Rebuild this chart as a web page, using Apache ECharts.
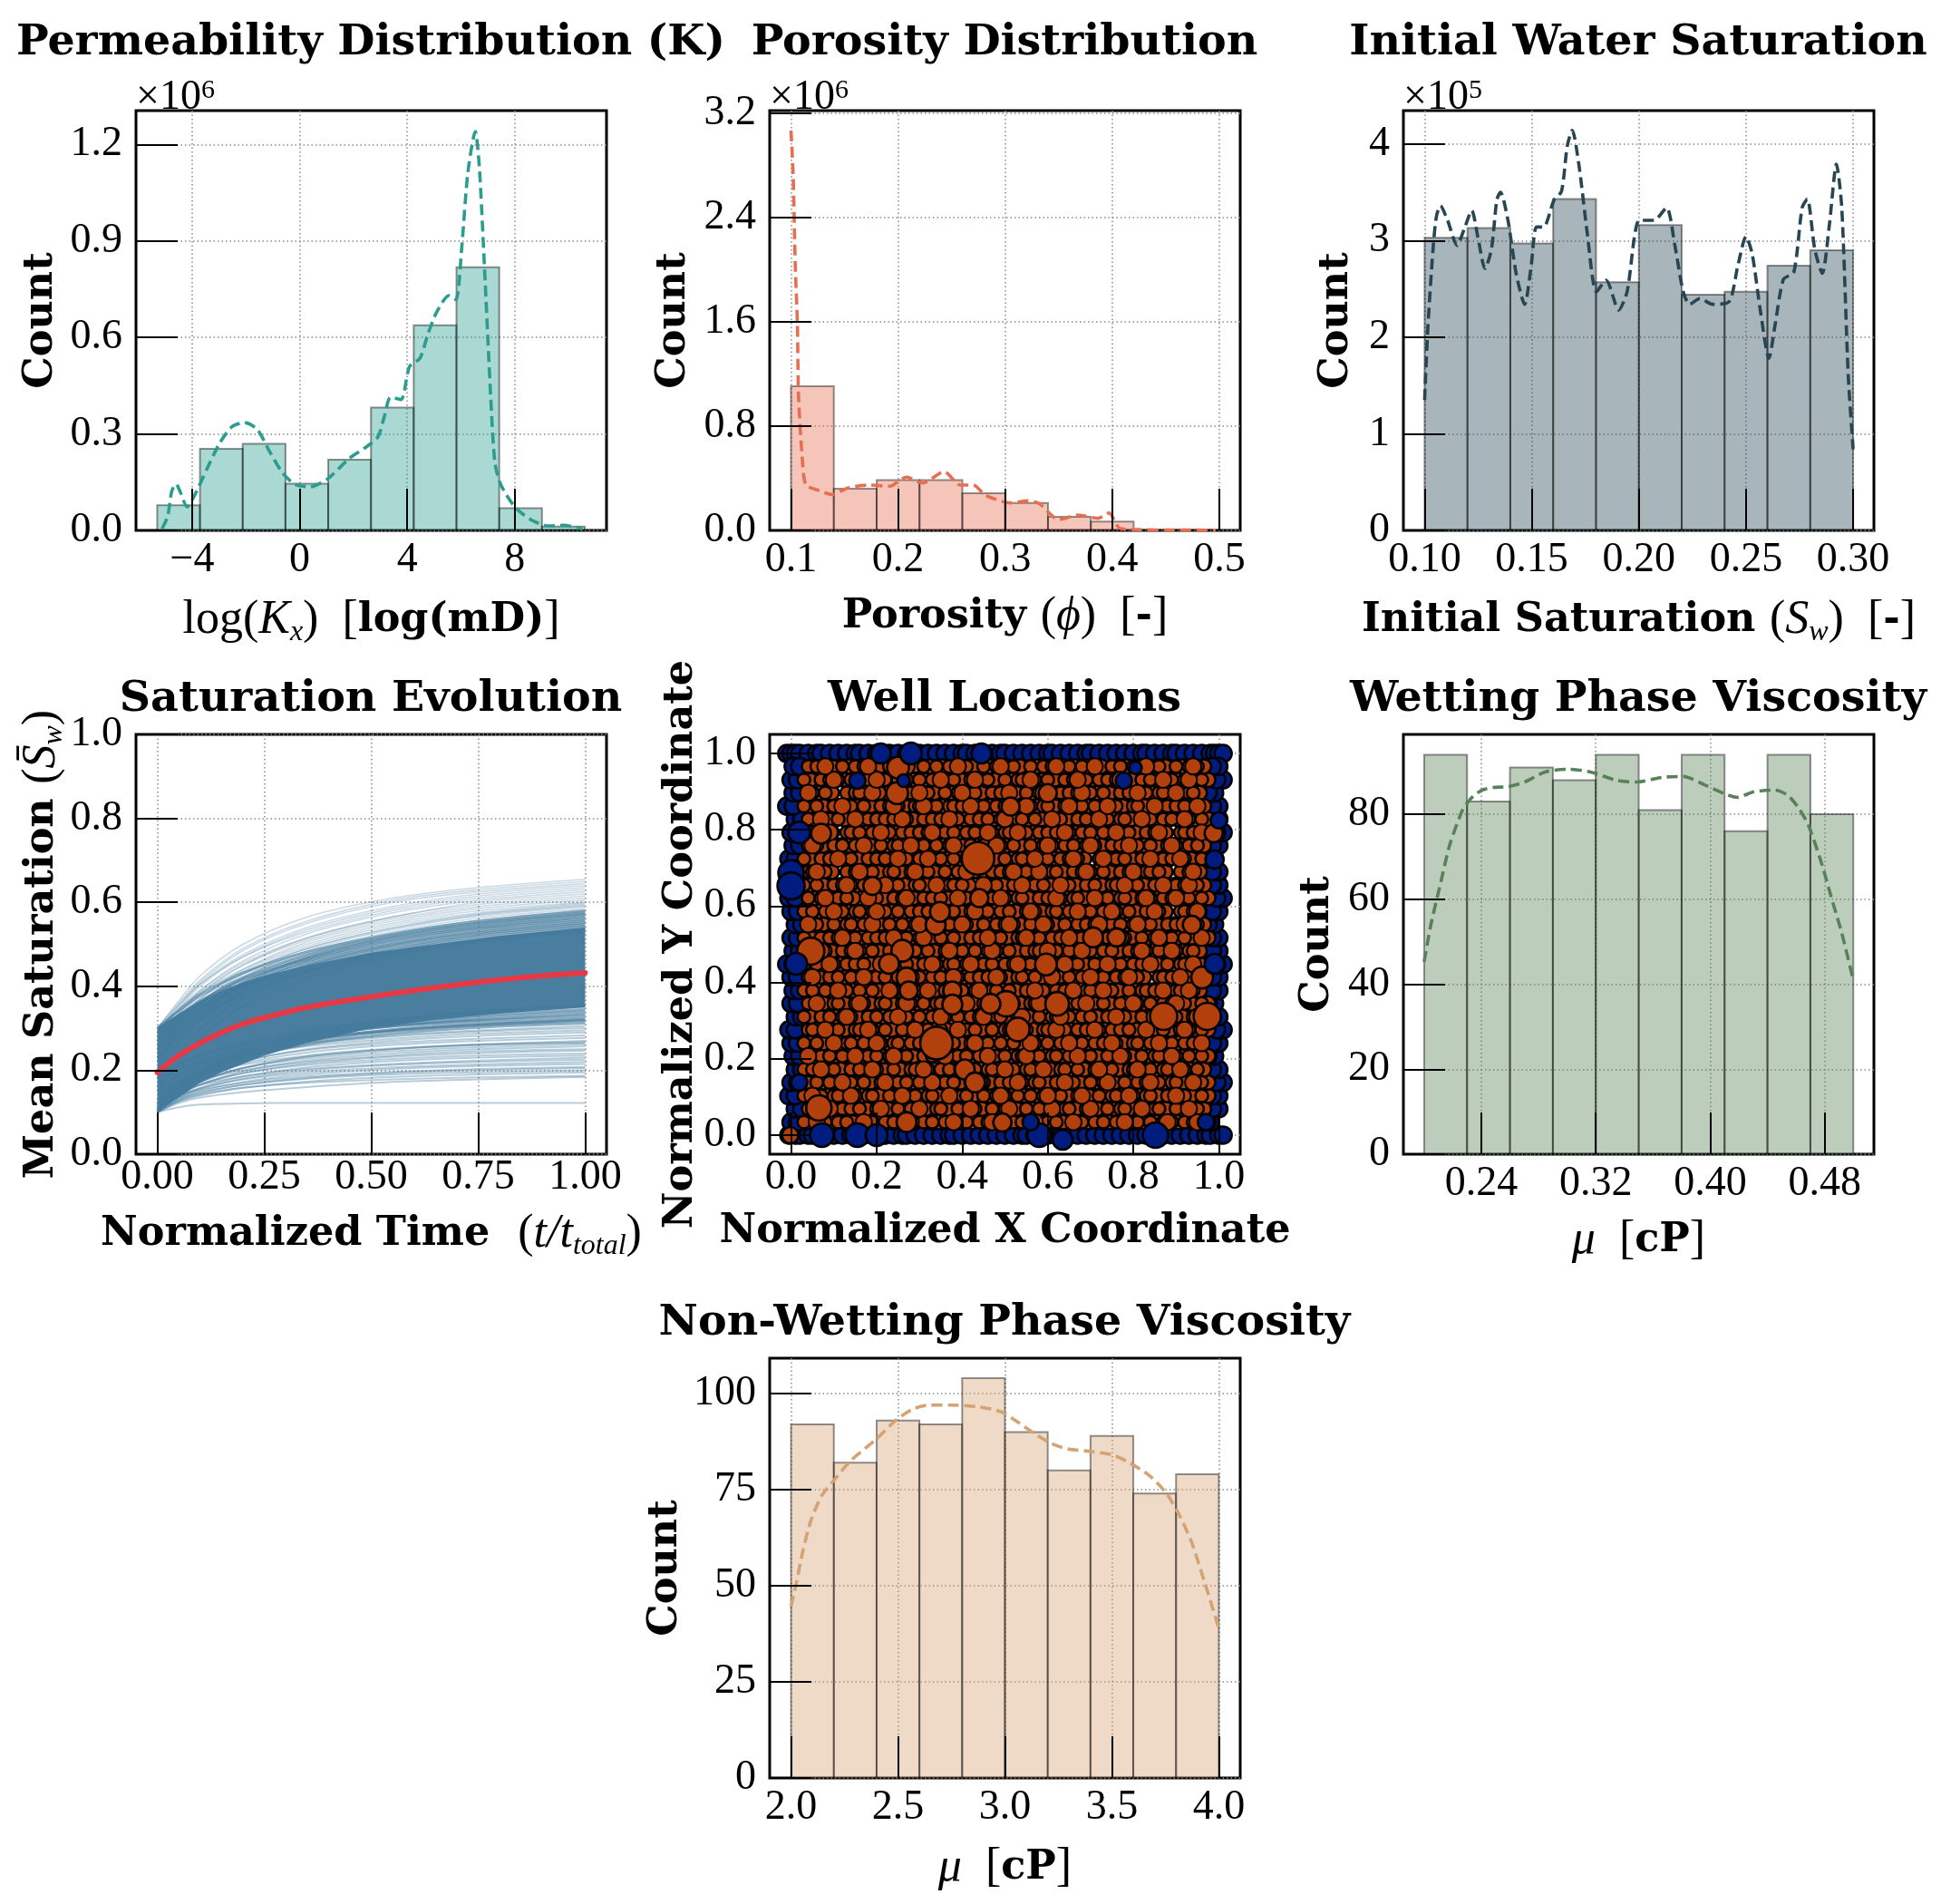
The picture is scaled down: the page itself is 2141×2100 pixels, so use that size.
<!DOCTYPE html>
<html><head><meta charset="utf-8">
<style>html,body{margin:0;padding:0;background:#fff}#c{width:2141px;height:2100px}</style>
<script src="https://cdn.jsdelivr.net/npm/echarts@6/dist/echarts.min.js"></script>
</head><body><div id="c"></div>
<script>
// ---------- Panel 1: permeability
const permEdges=[-5.30,-3.71,-2.12,-0.53,1.06,2.65,4.24,5.83,7.42,9.01,10.60];
const permCounts=[0.078,0.254,0.269,0.145,0.220,0.382,0.638,0.818,0.069,0.012];
const permKde=[[-5.12,.005],[-4.91,.044],[-4.76,.122],[-4.60,.144],[-4.42,.115],[-4.19,.073],[-3.91,.109],[-3.44,.193],[-2.98,.271],[-2.51,.323],[-2.05,.335],[-1.58,.314],[-1.12,.245],[-.65,.180],[-.19,.144],[.36,.135],[1.05,.161],[1.83,.223],[2.45,.258],[2.91,.291],[3.15,.355],[3.38,.414],[3.77,.407],[4.08,.509],[4.47,.535],[4.78,.613],[5.09,.678],[5.55,.730],[5.81,.717],[6.02,.873],[6.25,1.11],[6.53,1.24],[6.68,1.13],[6.87,.82],[7.10,.42],[7.26,.21],[7.49,.14],[8.03,.07],[8.65,.031],[9.27,.014],[9.81,.016],[10.51,.005]];
const permXTicks=[-4,0,4,8], permYTicks=[0,0.3,0.6,0.9,1.2];
// ---------- Panel 2: porosity
const poroEdges=[.10,.14,.18,.22,.26,.30,.34,.38,.42,.46,.50];
const poroCounts=[1.106,.32,.387,.387,.285,.211,.105,.067,.002,.001];
const poroKde=[[.1,3.07],[.102,2.73],[.104,2.03],[.106,1.58],[.107,1.04],[.1105,.556],[.114,.348],[.126,.307],[.1385,.275],[.153,.326],[.173,.348],[.192,.339],[.208,.409],[.223,.364],[.243,.451],[.258,.348],[.27,.348],[.282,.269],[.305,.211],[.321,.227],[.332,.205],[.35,.083],[.3675,.118],[.387,.093],[.397,.134],[.4065,.019],[.422,.006],[.457,.003],[.4966,.002]];
const poroXTicks=[.1,.2,.3,.4,.5], poroYTicks=[0,.8,1.6,2.4,3.2];
// ---------- Panel 3: initial saturation
const swEdges=[.10,.12,.14,.16,.18,.20,.22,.24,.26,.28,.30];
const swCounts=[3.03,3.13,2.97,3.43,2.57,3.16,2.44,2.47,2.74,2.90];
const swKde=[[.1,1.35],[.1016,2.13],[.1039,2.9],[.1055,3.25],[.1074,3.36],[.1107,3.21],[.1152,2.95],[.1185,3.12],[.122,3.31],[.1249,3.03],[.1282,2.71],[.1312,2.91],[.1337,3.42],[.1354,3.5],[.1389,3.21],[.1428,2.65],[.1467,2.34],[.1497,2.73],[.1522,3.14],[.1555,3.14],[.1604,3.42],[.1639,3.51],[.1666,3.98],[.1689,4.14],[.1721,3.77],[.1759,3.08],[.1802,2.47],[.1847,2.59],[.1906,2.28],[.1945,2.47],[.2003,3.21],[.2071,3.21],[.2129,3.34],[.2168,2.95],[.2207,2.47],[.2237,2.34],[.2285,2.40],[.2344,2.34],[.2422,2.37],[.2461,2.73],[.25,3.04],[.2529,2.86],[.2568,2.26],[.2607,1.78],[.2636,2.13],[.2675,2.60],[.2723,2.67],[.2762,3.34],[.2786,3.43],[.2821,2.91],[.2856,2.66],[.2889,3.16],[.2922,3.79],[.2947,3.34],[.2977,1.61],[.3,.84]];
const swXTicks=[.10,.15,.20,.25,.30], swYTicks=[0,1,2,3,4];
// ---------- Panel 4: saturation evolution
const evoTime=[0,.05,.1,.2,.35,.55,.75,1];
const evoUpper=[
[.30,.365,.425,.50,.565,.61,.635,.655],[.30,.36,.415,.49,.555,.605,.63,.65],[.29,.355,.41,.485,.55,.60,.625,.645],
[.29,.35,.405,.475,.54,.59,.62,.64],[.28,.345,.40,.47,.535,.585,.615,.635],[.30,.355,.405,.47,.53,.58,.61,.63],
[.27,.335,.39,.46,.525,.575,.605,.625],[.29,.345,.39,.455,.515,.565,.60,.62],[.26,.325,.38,.45,.515,.565,.595,.615],
[.28,.335,.385,.45,.51,.56,.59,.61],[.25,.315,.37,.44,.505,.555,.585,.605],[.30,.345,.385,.44,.50,.55,.58,.60],
[.27,.325,.37,.435,.495,.545,.575,.598],[.24,.305,.36,.43,.49,.54,.572,.595],[.29,.335,.375,.43,.49,.538,.57,.592],
[.22,.29,.345,.42,.485,.535,.567,.59],[.28,.325,.365,.425,.48,.53,.562,.585],[.26,.31,.355,.415,.475,.525,.557,.58],
[.23,.29,.34,.41,.47,.52,.552,.575],[.30,.34,.375,.42,.47,.518,.55,.572],[.25,.30,.345,.405,.465,.515,.547,.57],
[.21,.27,.325,.395,.46,.51,.543,.565]];
const evoLower=[
[.10,.112,.118,.121,.122,.122,.122,.122],[.10,.122,.135,.148,.16,.172,.178,.184],[.105,.128,.142,.158,.17,.178,.183,.187],
[.10,.125,.14,.158,.173,.184,.19,.195],[.11,.133,.147,.165,.18,.19,.195,.2],[.10,.128,.145,.165,.182,.194,.2,.205],
[.12,.14,.153,.17,.185,.196,.203,.208],[.10,.13,.15,.172,.19,.203,.21,.215],[.115,.14,.157,.178,.195,.207,.214,.22],
[.105,.135,.155,.18,.2,.213,.22,.225],[.13,.15,.165,.185,.203,.215,.223,.23],[.10,.135,.158,.185,.207,.222,.23,.235],
[.12,.148,.168,.193,.213,.227,.235,.24],[.11,.143,.165,.193,.216,.232,.241,.247],[.14,.16,.177,.2,.22,.235,.245,.25],
[.10,.14,.165,.197,.223,.24,.25,.257],[.125,.155,.177,.205,.228,.245,.255,.262],[.105,.145,.172,.205,.232,.25,.26,.267],
[.105,.145,.172,.205,.232,.25,.26,.265],[.15,.172,.19,.213,.235,.252,.262,.27],[.115,.155,.183,.216,.242,.26,.27,.277],
[.13,.165,.19,.222,.248,.265,.275,.283],[.10,.148,.18,.22,.25,.27,.282,.29],[.14,.175,.2,.232,.257,.275,.287,.295],
[.12,.163,.193,.23,.26,.28,.292,.3],[.16,.19,.21,.24,.265,.283,.295,.305]];
const evoEdge=[
[.30,.342,.38,.432,.482,.525,.555,.58],[.27,.32,.362,.42,.475,.52,.55,.575],[.24,.298,.345,.408,.468,.515,.545,.57],
[.29,.33,.365,.415,.465,.51,.54,.565],[.22,.282,.335,.402,.46,.505,.537,.56],[.26,.305,.345,.40,.455,.50,.532,.556],
[.20,.262,.318,.388,.45,.497,.528,.552],[.28,.318,.35,.398,.448,.492,.524,.548],[.23,.28,.322,.382,.44,.487,.52,.544],
[.18,.24,.298,.37,.433,.482,.515,.54],[.25,.295,.332,.385,.435,.48,.51,.535],[.16,.22,.278,.352,.42,.472,.506,.53],
[.10,.15,.185,.228,.262,.287,.302,.312],[.17,.2,.222,.25,.275,.295,.307,.318],[.11,.157,.19,.233,.268,.293,.308,.32],
[.13,.17,.2,.24,.272,.297,.312,.324],[.19,.215,.235,.26,.285,.305,.318,.33],[.105,.155,.192,.24,.278,.305,.32,.335],
[.15,.188,.215,.25,.283,.308,.325,.34],[.12,.165,.2,.245,.285,.313,.33,.345],[.10,.155,.195,.247,.29,.32,.337,.352],
[.18,.21,.235,.265,.295,.32,.34,.355]];
const coreTime=[0,.02,.05,.1,.15,.2,.25,.35,.5,.65,.8,1];
const coreHigh=[.30,.315,.335,.365,.39,.41,.425,.45,.48,.50,.52,.54];
const coreLow=[.10,.115,.135,.17,.195,.215,.235,.265,.30,.32,.335,.35];
const meanTime=[0,.05,.1,.15,.2,.25,.35,.5,.6,.75,.9,1];
const meanSat=[.195,.235,.265,.29,.31,.325,.35,.375,.39,.41,.425,.432];
const evoXTicks=[0,.25,.5,.75,1], evoYTicks=[0,.2,.4,.6,.8,1];
// ---------- Panel 5: wells
const wellRowY=[0,.034,.069,.103,.138,.172,.207,.241,.276,.31,.345,.379,.414,.448,.483,.517,.552,.586,.621,.655,.69,.724,.759,.793,.828,.862,.897,.931,.966,1];
const blueBottomX=[-.5,1,2,4,5,7,8,10,12,14,15,17,19,20,22,24,26,27,29,31,33,35,37,38,40,42,44,46,48,50,52,54,55,57,58,60,62,63,65,67,69,71,73,75,77,79,81,83,85,87,89,91,93,95,97,98,100,101];
const blueTopX=[-1,0,1,2,4,6,7,9,11,13,15,16,18,20,21,23,25,27,28,30,32,34,36,38,40,41,43,45,47,49,50,52,54,56,58,60,61,63,65,67,69,70,72,74,76,78,80,82,83,85,87,89,90,92,94,96,98,99,100,101];
const blueLeftX=[0,1,-.5,0,1,.5,0,-.5,1,0,.5,0,-1,.5,0,1,0,-.5,.5,0,-.5,.5,0,1,-1,.5,0,.5];
const blueRightX=[98,100,100,101,100,99,100,101,100,99,100,100,101,100,100,99,100,101,100,100,99,100,101,100,100,99,101,100];
const orangeRows=[
[3,6,8,11,13,17,19,22,24,27,31,33,36,38,41,44,46,49,52,54,57,60,62,66,68,71,73,76,79,81,84,87,89,92,94,96],
[4,5,9,12,14,16,20,21,25,28,30,34,35,39,42,43,47,50,51,55,58,61,64,65,69,70,74,77,78,82,85,86,90,93,95],
[3,7,10,11,15,18,19,23,26,29,32,33,37,40,41,45,48,50,53,56,59,60,63,67,68,72,75,76,80,83,84,88,91,92,96],
[4,6,9,13,14,17,21,22,25,27,30,34,36,38,42,44,45,49,51,54,57,58,62,65,66,70,73,74,78,81,83,86,89,90,94,96],
[3,5,8,10,14,16,19,20,24,28,29,32,35,37,40,43,46,47,52,55,56,59,63,64,67,71,72,75,79,80,84,87,88,92,95],
[4,7,9,12,15,18,20,23,26,27,31,33,36,39,41,44,48,50,53,54,58,61,62,65,69,70,74,77,78,82,85,86,90,93,96],
[3,6,10,13,14,17,21,24,25,28,30,34,37,38,42,45,46,49,52,56,57,60,63,66,68,71,73,76,80,81,84,88,89,92,94],
[4,5,8,11,15,16,19,22,26,29,31,32,35,40,41,43,47,50,51,55,59,60,64,67,69,72,75,77,79,83,85,87,91,93,96],
[3,7,9,12,14,18,20,23,25,27,30,33,36,39,42,44,48,49,53,54,58,61,62,65,68,70,74,76,78,82,86,88,90,94,95],
[4,6,10,11,15,17,21,22,26,28,31,34,35,38,41,45,46,50,52,56,57,60,63,66,67,71,73,77,80,81,84,87,89,92,96],
[3,5,8,12,13,16,19,23,24,27,29,32,36,37,40,43,47,48,51,55,58,59,62,64,69,70,74,75,79,82,83,85,90,91,94],
[4,7,9,11,14,18,20,22,25,28,30,33,35,39,42,44,46,49,53,54,57,61,63,65,68,72,73,76,78,81,86,87,89,93,95],
[3,6,10,13,15,17,21,24,26,27,31,34,37,38,41,45,47,50,52,56,59,60,64,66,67,71,74,77,80,82,84,88,91,92,96],
[4,5,8,12,14,16,19,23,25,28,29,32,36,39,40,43,46,48,51,55,57,58,62,65,69,70,73,75,79,81,83,86,90,93,94],
[3,7,9,11,15,18,20,22,24,27,30,33,35,38,42,44,47,49,53,54,58,61,63,66,68,72,74,76,78,82,85,87,89,92,96],
[4,6,10,13,14,17,21,23,26,29,31,34,37,40,41,45,48,50,52,56,59,60,64,67,69,71,75,77,80,81,84,88,90,93,95],
[3,5,8,12,15,16,19,22,25,28,30,32,36,38,42,43,46,49,51,55,57,61,62,65,68,70,73,76,79,83,85,86,91,92,94],
[4,7,9,11,13,18,20,24,26,27,31,33,35,39,41,44,47,50,53,54,58,60,63,66,67,72,74,77,78,82,84,87,89,93,96],
[3,6,10,12,14,17,21,22,25,29,30,34,37,38,40,45,46,48,52,56,57,59,64,65,69,71,75,76,80,81,85,88,90,92,95],
[4,5,8,13,15,16,19,23,24,28,31,32,36,39,42,43,47,49,51,55,58,61,62,66,68,70,73,77,79,83,84,86,91,93,94],
[3,7,9,11,14,18,20,22,26,27,30,33,35,38,41,44,46,50,53,54,57,60,63,65,67,72,74,76,78,82,85,87,89,92,96],
[4,6,10,12,15,17,21,24,25,29,31,34,37,40,42,45,48,49,52,56,59,61,64,66,69,71,75,77,80,81,84,88,90,93,95],
[3,5,8,13,14,16,19,23,26,28,30,32,36,38,41,43,47,50,51,55,58,60,62,65,68,70,73,76,79,83,85,86,91,92,94],
[4,7,9,11,15,18,20,22,24,27,31,33,35,39,42,44,46,49,53,54,57,61,63,67,69,72,74,77,78,82,84,87,89,93,96],
[3,6,10,12,14,17,21,23,25,29,30,34,37,38,40,45,48,50,52,56,59,60,64,66,68,71,75,76,80,81,85,88,90,92,95],
[4,5,8,13,15,16,19,24,26,28,31,32,36,39,41,43,47,49,51,55,58,62,63,65,67,70,73,77,79,83,86,87,91,93,94],
[3,7,9,11,14,18,20,22,25,27,30,33,35,38,42,44,46,50,53,54,57,60,64,66,69,72,74,76,78,82,84,88,89,92,96],
[4,6,10,12,15,17,21,23,26,29,31,34,37,40,41,45,48,49,52,56,59,61,62,65,68,71,75,77,80,81,85,86,90,93,95]];
const orangeMidRows=[
[6,17,28,38,47,57,66,78,88,95],[9,21,30,42,51,61,70,82,93],[5,14,26,37,49,60,68,79,90],
[12,22,33,44,53,64,74,84,94],[7,19,31,40,50,59,72,81,91],[4,15,24,36,46,55,67,77,89],
[10,20,34,43,56,65,75,86,96],[8,18,29,39,52,62,71,83,92],[13,25,35,45,54,63,76,85,95],
[6,16,27,41,50,58,69,80,90],[11,23,32,44,57,66,73,87,93],[5,17,28,38,48,61,70,79,91],
[9,21,33,42,53,64,74,84,94],[7,15,26,37,47,60,68,82,89],[12,24,31,46,55,65,77,86,96],
[4,19,30,40,51,59,72,81,92],[10,20,35,43,56,67,75,85,95],[8,18,27,39,49,62,71,83,90],
[13,22,34,45,54,63,78,87,93],[6,16,29,41,52,58,69,80,94],[11,25,32,44,57,66,73,84,91],
[5,17,28,38,48,60,70,79,89],[9,21,33,46,53,64,76,86,96],[7,15,26,37,50,61,72,82,92],
[12,24,31,42,55,65,74,85,95],[4,19,30,40,51,59,68,81,90],[10,20,35,43,56,67,77,87,93],
[8,18,27,39,49,62,71,83,94]];
const bigOrange=[[.34,.241,36],[.437,.725,36],[.871,.311,30],[.973,.311,30],[.046,.482,30],[.065,.071,28],[.503,.344,28],[.53,.277,26],[.622,.344,26],[.25,.963,24],[.248,.896,24],[.26,.483,24],[.229,.449,22],[.19,.653,20],[.07,.79,22],[.988,.791,20],[.513,.861,20],[.60,.896,20],[.706,.518,22],[.761,.518,20],[.338,.551,22],[.348,.585,22],[.44,.621,20],[.596,.447,24],[.27,.413,22],[.275,.379,20],[.377,.379,20],[.466,.344,22],[.377,.342,22],[.961,.413,24],[.937,.551,20],[.27,.034,22],[.406,.172,22],[.43,.138,22],[.494,.033,20],[-.002,0,18]];
const bigBlue=[[.019,.793,24],[0,.687,28],[0,.653,30],[.012,.449,24],[.99,.449,22],[.99,.722,20],[1,.825,18],[.072,0,26],[.155,0,26],[.852,0,28],[.58,0,26],[.635,-.012,22],[.28,1,24],[.445,1,22],[.21,1,22],[.155,.929,18],[.778,.929,18],[.263,.929,14],[.805,.963,14],[.56,.034,18],[.97,.034,18],[.019,.138,18],[.2,0,24]];
const wellTicks=[0,.2,.4,.6,.8,1];
// ---------- Panel 6: wetting viscosity
const wetEdges=[.20,.23,.26,.29,.32,.35,.38,.41,.44,.47,.50];
const wetCounts=[94,83,91,88,94,81,94,76,94,80];
const wetKde=[[.2,45.3],[.2047,54],[.2106,62.5],[.2179,72.8],[.2266,80.8],[.2324,83.6],[.24,85.6],[.2485,86.3],[.2587,86.5],[.2703,87.6],[.2849,90],[.3009,90.6],[.3169,89.9],[.3344,88],[.349,87.6],[.3665,88.7],[.3811,88.9],[.3956,87],[.4102,84.8],[.419,84],[.4306,85.3],[.4452,85.7],[.454,84.5],[.4613,81.7],[.4685,77.5],[.4773,69],[.4845,60.6],[.4918,52.2],[.4997,41.4]];
const wetXTicks=[.24,.32,.40,.48], wetYTicks=[0,20,40,60,80];
// ---------- Panel 7: non-wetting viscosity
const nonEdges=[2,2.2,2.4,2.6,2.8,3,3.2,3.4,3.6,3.8,4];
const nonCounts=[92,82,93,92,104,90,80,89,74,79];
const nonKde=[[2,44.6],[2.025,50.8],[2.055,59],[2.093,67],[2.142,73.3],[2.2,77.4],[2.278,82.5],[2.395,88],[2.493,93.2],[2.571,96],[2.648,97],[2.746,97],[2.882,96.5],[2.98,95.3],[3.057,92.7],[3.135,89.7],[3.213,87.1],[3.291,85.6],[3.408,84.9],[3.505,84],[3.583,82],[3.681,78.4],[3.758,73.8],[3.817,68.2],[3.875,61],[3.934,50.8],[4,39]];
const nonXTicks=[2,2.5,3,3.5,4], nonYTicks=[0,25,50,75,100];

const SERIF='"Liberation Serif"', BOLD='"DejaVu Serif"';
const TICK=46, LAB=52, BLD=44.5, TTL=47.5;
const rich={
  r:{fontFamily:SERIF,fontSize:LAB,fontWeight:'normal',color:'#000'},
  b:{fontFamily:BOLD,fontSize:BLD,fontWeight:'bold',color:'#000'},
  i:{fontFamily:SERIF,fontSize:LAB,fontWeight:'normal',fontStyle:'italic',color:'#000'},
  s:{fontFamily:SERIF,fontSize:32,fontWeight:'normal',fontStyle:'italic',color:'#000',verticalAlign:'bottom',lineHeight:60},
};
const grids=[],xAxes=[],yAxes=[],series=[],titles=[];
function addPanel(p){
  const g=grids.length;
  grids.push({left:p.l,top:p.t,width:519,height:463,show:true,borderColor:'#000',borderWidth:3,backgroundColor:'transparent',containLabel:false});
  const gridLine={show:true,lineStyle:{color:'#8a8a8a',width:1.5,type:[1.5,3]}};
  const xi=xAxes.length, yi=yAxes.length;
  xAxes.push({type:'value',gridIndex:g,position:'bottom',min:p.x[0],max:p.x[1],z:0,axisLine:{show:false,onZero:false},
    axisTick:{show:false,customValues:p.xt},axisLabel:{show:false,customValues:p.xt},splitLine:gridLine});
  xAxes.push({type:'value',gridIndex:g,position:'bottom',min:p.x[0],max:p.x[1],z:20,axisLine:{show:false,onZero:false},splitLine:{show:false},
    axisTick:{show:true,inside:true,length:46,customValues:p.xt,lineStyle:{color:'#000',width:2}},
    axisLabel:{show:true,customValues:p.xt,margin:p.xm,fontFamily:SERIF,fontSize:TICK,color:'#000',formatter:v=>fmt(v,p.xd)},
    name:p.xn,nameLocation:'middle',nameGap:p.xg,nameMoveOverlap:false,nameTextStyle:{rich,fontFamily:BOLD,fontSize:BLD,fontWeight:'bold',color:'#000'}});
  yAxes.push({type:'value',gridIndex:g,position:'left',min:p.y[0],max:p.y[1],z:0,axisLine:{show:false,onZero:false},
    axisTick:{show:false,customValues:p.yt},axisLabel:{show:false,customValues:p.yt},splitLine:gridLine});
  yAxes.push({type:'value',gridIndex:g,position:'left',min:p.y[0],max:p.y[1],z:20,axisLine:{show:false,onZero:false},splitLine:{show:false},
    axisTick:{show:true,inside:true,length:46,customValues:p.yt,lineStyle:{color:'#000',width:2}},
    axisLabel:{show:true,customValues:p.yt,margin:15,padding:[5,0,0,0],fontFamily:SERIF,fontSize:TICK,color:'#000',formatter:v=>fmt(v,p.yd)},
    name:p.yn,nameLocation:'middle',nameRotate:90,nameGap:p.yg,nameMoveOverlap:false,nameTextStyle:{rich,fontFamily:BOLD,fontSize:BLD,fontWeight:'bold',color:'#000'}});
  titles.push({text:p.title,left:p.l+254,top:p.t-(p.offset?79:43),textAlign:'center',textVerticalAlign:'middle',textStyle:{fontFamily:BOLD,fontSize:TTL,fontWeight:'bold',color:'#000'}});
  if(p.offset) titles.push({text:'{a|×10}{b|'+p.offset+'}',left:p.l-5,top:p.t-42,textStyle:{rich:{a:{fontFamily:SERIF,fontSize:TICK,fontWeight:'normal',color:'#000'},b:{fontFamily:SERIF,fontSize:30,fontWeight:'normal',color:'#000',verticalAlign:'top',lineHeight:46}}}});
  return {xi,yi};
}
function fmt(v,d){const s=Math.abs(v).toFixed(d);return (v<0?'\u2212':'')+s;}
function histogram(ax,edges,counts,col){
  series.push({type:'custom',xAxisIndex:ax.xi,yAxisIndex:ax.yi,silent:true,z:3,clip:true,
    encode:{x:[0,1],y:2},
    data:counts.map((c,i)=>[edges[i],edges[i+1],c]),
    renderItem:(params,api)=>{
      const a=api.coord([api.value(0),0]), b=api.coord([api.value(1),api.value(2)]);
      return {type:'rect',shape:{x:a[0],y:b[1],width:b[0]-a[0],height:a[1]-b[1]},
        style:{fill:col,stroke:'rgba(0,0,0,0.42)',lineWidth:2,opacity:1}};
    }});
}
function kdeLine(ax,pts,col){
  series.push({type:'line',xAxisIndex:ax.xi,yAxisIndex:ax.yi,data:pts,symbol:'none',smooth:.25,z:5,silent:true,clip:true,
    lineStyle:{color:col,width:3.6,type:[12,6]}});
}
function rgba(h,a){const n=parseInt(h.slice(1),16);return `rgba(${n>>16},${n>>8&255},${n&255},${a})`;}

// Panels
const xp=[150,849,1548], yp=[122,810,1498];
let ax;
ax=addPanel({l:xp[0],t:yp[0],x:[-6.09,11.41],y:[0,1.305],xt:permXTicks,yt:permYTicks,xd:0,yd:1,xm:10,offset:'6',title:'Permeability Distribution (K)',
  xn:'{r|log(}{i|K}{s|x}{r|)  [}{b|log(mD)}{r|]}',xg:69,yn:'Count',yg:82});
histogram(ax,permEdges,permCounts,rgba('#2A9D8F',.4)); kdeLine(ax,permKde,'#2A9D8F');
ax=addPanel({l:xp[1],t:yp[0],x:[.0801,.5195],y:[0,3.222],xt:poroXTicks,yt:poroYTicks,xd:1,yd:1,xm:10,offset:'6',title:'Porosity Distribution',
  xn:'{b|Porosity }{r|(}{i|ϕ}{r|)  [}{b|-}{r|]}',xg:69,yn:'Count',yg:83});
histogram(ax,poroEdges,poroCounts,rgba('#E76F51',.4)); kdeLine(ax,poroKde,'#E76F51');
ax=addPanel({l:xp[2],t:yp[0],x:[.0901,.3097],y:[0,4.345],xt:swXTicks,yt:swYTicks,xd:2,yd:0,xm:10,offset:'5',title:'Initial Water Saturation',
  xn:'{b|Initial Saturation }{r|(}{i|S}{s|w}{r|)  [}{b|-}{r|]}',xg:69,yn:'Count',yg:51});
histogram(ax,swEdges,swCounts,rgba('#264653',.4)); kdeLine(ax,swKde,'#264653');

ax=addPanel({l:xp[0],t:yp[1],x:[-.05,1.05],y:[0,1],xt:evoXTicks,yt:evoYTicks,xd:2,yd:1,xm:3,title:'Saturation Evolution',
  xn:'{b|Normalized Time  }{r|(}{i|t/t}{s|total}{r|)}',xg:58,yn:'{b|Mean Saturation }{r|(}{i|S\u0304}{s|w}{r|)}',yg:74});
series.push({type:'custom',xAxisIndex:ax.xi,yAxisIndex:ax.yi,silent:true,z:3,encode:{x:0,y:1},data:[[coreTime[0],coreHigh[0]]],
  renderItem:(params,api)=>{
    const pts=[];
    coreTime.forEach((t,i)=>pts.push(api.coord([t,coreHigh[i]])));
    for(let i=coreTime.length-1;i>=0;i--)pts.push(api.coord([coreTime[i],coreLow[i]]));
    return {type:'polygon',shape:{points:pts},style:{fill:'#497e9f'}};
  }});
const evoLine=(r,w,o)=>series.push({type:'line',xAxisIndex:ax.xi,yAxisIndex:ax.yi,silent:true,z:3,symbol:'none',smooth:.3,
  data:r.map((v,i)=>[evoTime[i],v]),lineStyle:{color:'#457B9D',width:w,opacity:o}});
evoUpper.forEach(r=>evoLine(r,1.6,.28));
evoLower.forEach(r=>evoLine(r,2,.38));
evoEdge.forEach(r=>evoLine(r,3,.6));
series.push({type:'line',xAxisIndex:ax.xi,yAxisIndex:ax.yi,silent:true,z:6,symbol:'none',smooth:.3,data:meanTime.map((t,i)=>[t,meanSat[i]]),lineStyle:{color:'#E63946',width:6,cap:'round'}});

ax=addPanel({l:xp[1],t:yp[1],x:[-.05,1.05],y:[-.05,1.05],xt:wellTicks,yt:wellTicks,xd:1,yd:1,xm:3,title:'Well Locations',
  xn:'{b|Normalized X Coordinate}',xg:63,yn:'{b|Normalized Y Coordinate}',yg:75});
const WS=14, edge={borderColor:'#000',borderWidth:2.6,opacity:1};
const blueBase=[];
blueBottomX.forEach(x=>blueBase.push([x/100,0]));
blueTopX.forEach(x=>blueBase.push([x/100,1]));
blueLeftX.forEach((x,i)=>{blueBase.push([x/100,wellRowY[i+1]]);blueBase.push([(x+1.5)/100,wellRowY[i+1]]);});
blueRightX.forEach((x,i)=>{blueBase.push([x/100,wellRowY[i+1]]);blueBase.push([(x-1.5)/100,wellRowY[i+1]]);});
series.push({type:'scatter',xAxisIndex:ax.xi,yAxisIndex:ax.yi,silent:true,z:3,symbolSize:19,data:blueBase,progressive:0,itemStyle:{color:'#001C7F',...edge}});
const orangeUnder=[],orangeBase=[],orangeMid=[];
orangeRows.forEach((row,i)=>row.forEach(x=>{orangeUnder.push([(x+1.5)/100,wellRowY[i+1]]);orangeBase.push([x/100,wellRowY[i+1]]);}));
orangeMidRows.forEach((row,i)=>row.forEach(x=>orangeMid.push([x/100,wellRowY[i+1]])));
series.push({type:'scatter',xAxisIndex:ax.xi,yAxisIndex:ax.yi,silent:true,z:3,symbolSize:WS+2,data:orangeUnder,progressive:0,itemStyle:{color:'#B1400D',...edge}});
series.push({type:'scatter',xAxisIndex:ax.xi,yAxisIndex:ax.yi,silent:true,z:4,symbolSize:WS,data:orangeBase,progressive:0,itemStyle:{color:'#B1400D',...edge}});
series.push({type:'scatter',xAxisIndex:ax.xi,yAxisIndex:ax.yi,silent:true,z:4,symbolSize:18,data:orangeMid,progressive:0,itemStyle:{color:'#B1400D',...edge,borderWidth:2}});
series.push({type:'scatter',xAxisIndex:ax.xi,yAxisIndex:ax.yi,silent:true,z:5,symbolSize:d=>d[2],data:bigOrange,progressive:0,itemStyle:{color:'#B1400D',...edge}});
series.push({type:'scatter',xAxisIndex:ax.xi,yAxisIndex:ax.yi,silent:true,z:5,symbolSize:d=>d[2],data:bigBlue,progressive:0,itemStyle:{color:'#001C7F',...edge}});

ax=addPanel({l:xp[2],t:yp[1],x:[.1855,.5144],y:[0,98.8],xt:wetXTicks,yt:wetYTicks,xd:2,yd:0,xm:10,title:'Wetting Phase Viscosity',
  xn:'{i|μ}{r|  [}{b|cP}{r|]}',xg:69,yn:'Count',yg:72});
histogram(ax,wetEdges,wetCounts,rgba('#588157',.4)); kdeLine(ax,wetKde,'#588157');
ax=addPanel({l:xp[1],t:yp[2],x:[1.9,4.1],y:[0,109.2],xt:nonXTicks,yt:nonYTicks,xd:1,yd:0,xm:10,title:'Non-Wetting Phase Viscosity',
  xn:'{i|μ}{r|  [}{b|cP}{r|]}',xg:73,yn:'Count',yg:92});
histogram(ax,nonEdges,nonCounts,rgba('#D4A373',.4)); kdeLine(ax,nonKde,'#D4A373');

const chart=echarts.init(document.getElementById('c'),null,{renderer:'canvas',width:2141,height:2100});
chart.setOption({animation:false,backgroundColor:'#fff',title:titles,grid:grids,xAxis:xAxes,yAxis:yAxes,series});
</script></body></html>
